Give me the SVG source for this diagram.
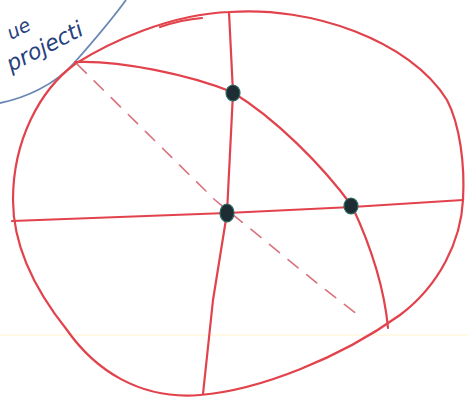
<svg xmlns="http://www.w3.org/2000/svg" width="468" height="400" viewBox="0 0 468 400">
  <style>
    .red { fill: none; stroke: #e2424c; stroke-width: 2.2; stroke-linecap: round; stroke-linejoin: round; }
    .dash { fill: none; stroke: #d8727c; stroke-width: 1.6; stroke-dasharray: 13 11; stroke-linecap: round; }
    .dot { fill: #1d2d33; stroke: #2c6b62; stroke-width: 1.2; }
    .hand { font-family: "DejaVu Sans", sans-serif; font-style: italic; fill: #27407e; }
  </style>
  <rect width="468" height="400" fill="#ffffff"/>
  <line x1="0" y1="335" x2="468" y2="335" stroke="#fff3cc" stroke-width="1.2"/>

  <g id="label">
    <path d="M0,103 C25,98 55,85 75,62 C90,45 110,22 126,0" fill="none" stroke="#6a88b4" stroke-width="1.8"/>
    <text class="hand" font-size="22" transform="translate(11,72) rotate(-27)">projecti</text>
    <text class="hand" font-size="19" transform="translate(11,40) rotate(-27)">ue</text>
  </g>

  <g id="sphere">
    <path class="red" d="M75,64 C110,42 170,14 230,12 C310,6 410,40 447,100 C460,125 465,165 463,200 C461,240 440,285 400,315 C340,358 260,390 200,395 C140,400 95,370 67,330 C35,290 13,245 13,200 C13,140 40,90 75,64 Z"/>
    <path class="red" d="M160,27 C175,22 190,19 202,18" stroke-width="1.6"/>
  </g>

  <g id="connectors">
    <path id="great-circle" class="red" d="M75,62 C120,60 190,75 232,92 C275,118 322,165 352,206 C368,240 384,285 388,328"/>
    <path id="meridian" class="red" d="M229,12 L233,93 L227,213 L213,300 L203,394"/>
    <path id="equator" class="red" d="M12,221 L227,213 L352,207 L463,200"/>
    <path id="diagonal" class="dash" d="M77,64 L215,200 L318,284 L362,318"/>
  </g>

  <g id="point-a"><ellipse class="dot" cx="233" cy="93" rx="7" ry="8"/></g>
  <g id="point-b"><ellipse class="dot" cx="227" cy="213" rx="7" ry="9"/></g>
  <g id="point-c"><ellipse class="dot" cx="351" cy="206" rx="7" ry="8"/></g>
</svg>
